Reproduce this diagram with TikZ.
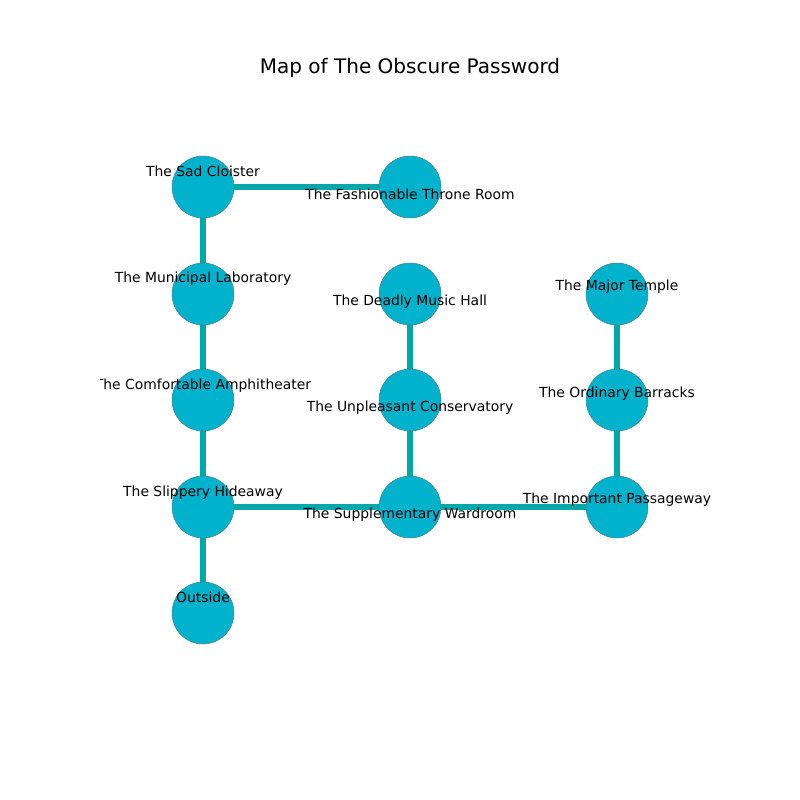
\documentclass[tikz,border=0pt]{standalone}
\usepackage{fontspec}
\setmainfont{DejaVu Sans}
\usetikzlibrary{backgrounds}
\definecolor{roomfill}{RGB}{0,178,204}
\definecolor{roomline}{RGB}{70,130,145}
\definecolor{passage}{RGB}{0,168,170}

\begin{document}
\begin{tikzpicture}[x=0.72pt,y=-0.72pt,
    room/.style={circle, fill=roomfill, draw=roomline, line width=0.4pt,
    minimum size=44.6pt, inner sep=0pt},
    lbl/.style={font=\fontsize{10}{12}\selectfont, inner sep=0pt},
    passage/.style={draw=passage, line width=4pt}]
    \useasboundingbox (0,0) rectangle (800,800);
    \node[font=\fontsize{14.4}{17}\selectfont] (T) at (410,68) {Map of The Obscure Password};
    \begin{scope}
    \clip (100,96) rectangle (720,704);
    \node[room,label={[lbl,yshift=11pt]center:The Sad Cloister}] (SC) at (203,187) {};
    \node[room,label={[lbl,yshift=-5.3pt]center:The Fashionable Throne Room}] (FT) at (410,187) {};
    \node[room,label={[lbl,yshift=11.2pt]center:The Municipal Laboratory}] (ML) at (203,294) {};
    \node[room,label={[lbl,yshift=-5.3pt]center:The Deadly Music Hall}] (DM) at (410,294) {};
    \node[room,label={[lbl,yshift=5.5pt]center:The Major Temple}] (MT) at (617,294) {};
    \node[room,label={[lbl,yshift=10.5pt]center:The Comfortable Amphitheater}] (CA) at (203,400) {};
    \node[room,label={[lbl,yshift=-5.3pt]center:The Unpleasant Conservatory}] (UC) at (410,400) {};
    \node[room,label={[lbl,yshift=4.8pt]center:The Ordinary Barracks}] (OB) at (617,400) {};
    \node[room,label={[lbl,yshift=10.5pt]center:The Slippery Hideaway}] (SH) at (203,507) {};
    \node[room,label={[lbl,yshift=-5.3pt]center:The Supplementary Wardroom}] (SW) at (410,507) {};
    \node[room,label={[lbl,yshift=5.5pt]center:The Important Passageway}] (IP) at (617,507) {};
    \node[room,label={[lbl,yshift=11pt]center:Outside}] (O) at (203,613) {};
    \end{scope}
    \begin{scope}[on background layer]
    \draw[passage] (SC.center) -- (FT.center);
    \draw[passage] (SC.center) -- (ML.center);
    \draw[passage] (ML.center) -- (CA.center);
    \draw[passage] (CA.center) -- (SH.center);
    \draw[passage] (SH.center) -- (O.center);
    \draw[passage] (SH.center) -- (SW.center);
    \draw[passage] (SW.center) -- (UC.center);
    \draw[passage] (UC.center) -- (DM.center);
    \draw[passage] (SW.center) -- (IP.center);
    \draw[passage] (IP.center) -- (OB.center);
    \draw[passage] (OB.center) -- (MT.center);
    \end{scope}
    \end{tikzpicture}
\end{document}
